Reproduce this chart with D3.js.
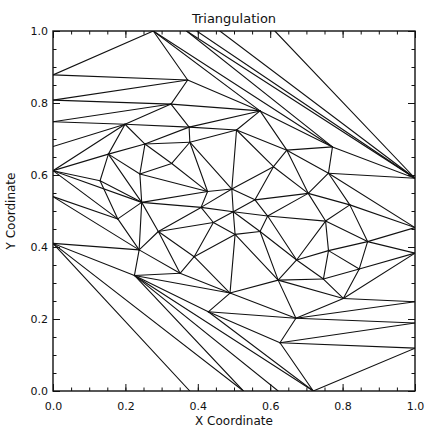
<!DOCTYPE html>
<html>
<head>
<meta charset="utf-8">
<script src="https://cdn.jsdelivr.net/npm/d3@7"></script>
<style>
	body { margin: 0; background: #fff; }
	text { font-family: "DejaVu Sans", sans-serif; fill: #111; }
</style>
</head>
<body>
<svg id="chart" width="426" height="427"></svg>
<script>
// vertices sitting on the plot frame (edges running past the frame end there)
var frameNames = ["L1", "L2", "L3", "L4", "L5", "L6", "L7",
	"T1", "T2", "T3", "T4", "T5",
	"R1", "R2", "R3", "R4", "R5", "R6",
	"B1", "B2", "B3", "B4"];
var frameX = [0, 0, 0, 0, 0, 0, 0,
	0.277, 0.369, 0.397, 0.461, 0.613,
	1, 1, 1, 1, 1, 1,
	0.378, 0.526, 0.622, 0.719];
var frameY = [0.878, 0.808, 0.748, 0.679, 0.612, 0.540, 0.410,
	1, 1, 1, 1, 1,
	0.591, 0.454, 0.383, 0.248, 0.189, 0.119,
	0, 0, 0, 0];

// vertices inside the plot
var innerNames = "abcdefghijklmnopqrstuvwxyzABCDEFGHIJKWMNOPQSUV".split("");
var innerX = [0.372, 0.326, 0.199, 0.376, 0.378, 0.254, 0.153, 0.328, 0.240, 0.130,
	0.427, 0.245, 0.409, 0.179, 0.291, 0.238, 0.225, 0.351, 0.390, 0.443,
	0.429, 0.489, 0.498, 0.593, 0.503, 0.572, 0.753, 0.761, 0.673, 0.869,
	0.846, 0.622, 0.747, 0.802, 0.671, 0.627, 0.572, 0.507, 0.772, 0.646,
	0.609, 0.761, 0.494, 0.558, 0.705, 0.820];
var innerY = [0.864, 0.797, 0.741, 0.733, 0.691, 0.686, 0.658, 0.632, 0.603, 0.584,
	0.554, 0.524, 0.510, 0.478, 0.443, 0.392, 0.321, 0.327, 0.373, 0.468,
	0.220, 0.272, 0.498, 0.486, 0.435, 0.443, 0.472, 0.390, 0.364, 0.415,
	0.339, 0.308, 0.311, 0.257, 0.202, 0.134, 0.778, 0.725, 0.678, 0.669,
	0.623, 0.605, 0.561, 0.531, 0.549, 0.517];

// triangle edges, as pairs of vertex names
var edges = [
	"L1 T1", "L1 a", "L2 a", "L2 b", "L3 b", "L3 c", "L4 c", "L5 c", "L5 g", "L5 j",
	"L5 l", "L5 n", "L6 n", "L6 p", "L7 p", "L7 q", "L7 B1", "L7 B2",
	"T1 a", "T1 K", "T1 M", "T2 M", "T2 R1", "T3 R1", "T4 R1", "T5 R1",
	"a b", "a K", "b K", "b c", "b d", "c d", "c f", "c g", "d e", "d f", "d K", "d W",
	"e W", "e f", "e h", "e k", "e Q",
	"f g", "f h", "f i", "g i", "g j", "g l", "h i", "h k", "i k", "i l", "j l", "j n",
	"l n", "l k", "l m", "l o", "l p", "k m", "k Q", "m Q", "m w", "m t", "m o",
	"n p", "o p", "o t", "o s", "o r", "p q", "p r", "q r", "q u", "q v",
	"q B2", "q B3", "q B4",
	"r s", "r v", "s t", "s y", "s v", "t w", "t y", "u v", "u B4", "u J", "u I",
	"v F", "v I", "v y",
	"w x", "w y", "w z", "w S", "w Q", "x S", "x z", "x A", "x U", "x C", "y z", "z C", "z F",
	"y F", "C F", "C A", "C B", "C G", "A B", "A U", "A V", "A D", "B D", "B E", "B G",
	"D V", "D E", "D R3", "E R3", "E G", "E H", "G H", "F G", "F H", "F I", "H I",
	"H R3", "H R4", "I R4", "I R5", "I J", "J R5", "J R6", "B4 R6", "J B4",
	"V R2", "P R2", "D R2",
	"K W", "K N", "K M", "M N", "M P", "M R1", "P R1", "P N", "P U", "P V", "N U",
	"N O", "N W", "W O", "W Q", "O Q", "O S", "O U", "Q S", "S U", "U V"
];

var majorTicks = [0, 0.2, 0.4, 0.6, 0.8, 1.0];
var minorTicks = d3.range(0, 1.0001, 0.05);
var chartTitle = "Triangulation";
var xTitle = "X Coordinate";
var yTitle = "Y Coordinate";

var margin = {left: 53, top: 31, right: 11, bottom: 36};
var width = 426, height = 427;

var svg = d3.select("#chart");

var xscale = d3.scaleLinear().domain([0, 1]).range([margin.left, width - margin.right]);
var yscale = d3.scaleLinear().domain([0, 1]).range([height - margin.bottom, margin.top]);

var vertex = {};
frameNames.forEach(function(name, i) { vertex[name] = [frameX[i], frameY[i]]; });
innerNames.forEach(function(name, i) { vertex[name] = [innerX[i], innerY[i]]; });

var segments = edges.map(function(edge) {
	var ends = edge.split(" ");
	return [vertex[ends[0]], vertex[ends[1]]];
});

svg.append("clipPath").attr("id", "plotClip")
	.append("rect")
	.attr("x", xscale(0)).attr("y", yscale(1))
	.attr("width", xscale(1) - xscale(0))
	.attr("height", yscale(0) - yscale(1));

var line = d3.line()
	.x(function(d) { return xscale(d[0]); })
	.y(function(d) { return yscale(d[1]); });

svg.append("g")
	.attr("clip-path", "url(#plotClip)")
	.selectAll(".edge")
	.data(segments)
	.enter()
	.append("path")
	.classed("edge", true)
	.attr("d", line)
	.attr("fill", "none")
	.attr("stroke", "#111")
	.attr("stroke-width", 1.1)
	.attr("stroke-linecap", "round");

// axes: ticks point inward on every side, like the IDL plot
var fmt = d3.format(".1f");

function drawAxis(axis, transform, labels) {
	var g = svg.append("g").attr("transform", transform).call(axis);
	g.select(".domain").remove();
	g.selectAll("line").attr("stroke", "#111").attr("stroke-width", 1);
	if (!labels) g.selectAll("text").remove();
	else g.selectAll("text").style("font-size", "11px").attr("fill", "#111");
	return g;
}

drawAxis(d3.axisBottom(xscale).tickValues(majorTicks).tickSize(-7).tickPadding(11).tickFormat(fmt),
	"translate(0," + yscale(0) + ")", true);
drawAxis(d3.axisBottom(xscale).tickValues(minorTicks).tickSize(-3.5),
	"translate(0," + yscale(0) + ")", false);
drawAxis(d3.axisTop(xscale).tickValues(majorTicks).tickSize(-7),
	"translate(0," + yscale(1) + ")", false);
drawAxis(d3.axisTop(xscale).tickValues(minorTicks).tickSize(-3.5),
	"translate(0," + yscale(1) + ")", false);
drawAxis(d3.axisLeft(yscale).tickValues(majorTicks).tickSize(-7).tickPadding(5).tickFormat(fmt),
	"translate(" + xscale(0) + ",0)", true);
drawAxis(d3.axisLeft(yscale).tickValues(minorTicks).tickSize(-3.5),
	"translate(" + xscale(0) + ",0)", false);
drawAxis(d3.axisRight(yscale).tickValues(majorTicks).tickSize(-7),
	"translate(" + xscale(1) + ",0)", false);
drawAxis(d3.axisRight(yscale).tickValues(minorTicks).tickSize(-3.5),
	"translate(" + xscale(1) + ",0)", false);

svg.append("rect")
	.attr("x", xscale(0)).attr("y", yscale(1))
	.attr("width", xscale(1) - xscale(0))
	.attr("height", yscale(0) - yscale(1))
	.attr("fill", "none")
	.attr("stroke", "#111")
	.attr("stroke-width", 1.4);

svg.append("text")
	.attr("x", (xscale(0) + xscale(1)) / 2)
	.attr("y", 23)
	.attr("text-anchor", "middle")
	.style("font-size", "13px")
	.text(chartTitle);

svg.append("text")
	.attr("x", (xscale(0) + xscale(1)) / 2)
	.attr("y", 425)
	.attr("text-anchor", "middle")
	.style("font-size", "12px")
	.text(xTitle);

svg.append("text")
	.attr("transform", "translate(15," + (yscale(0.5)) + ") rotate(-90)")
	.attr("text-anchor", "middle")
	.style("font-size", "12px")
	.text(yTitle);
</script>
</body>
</html>
